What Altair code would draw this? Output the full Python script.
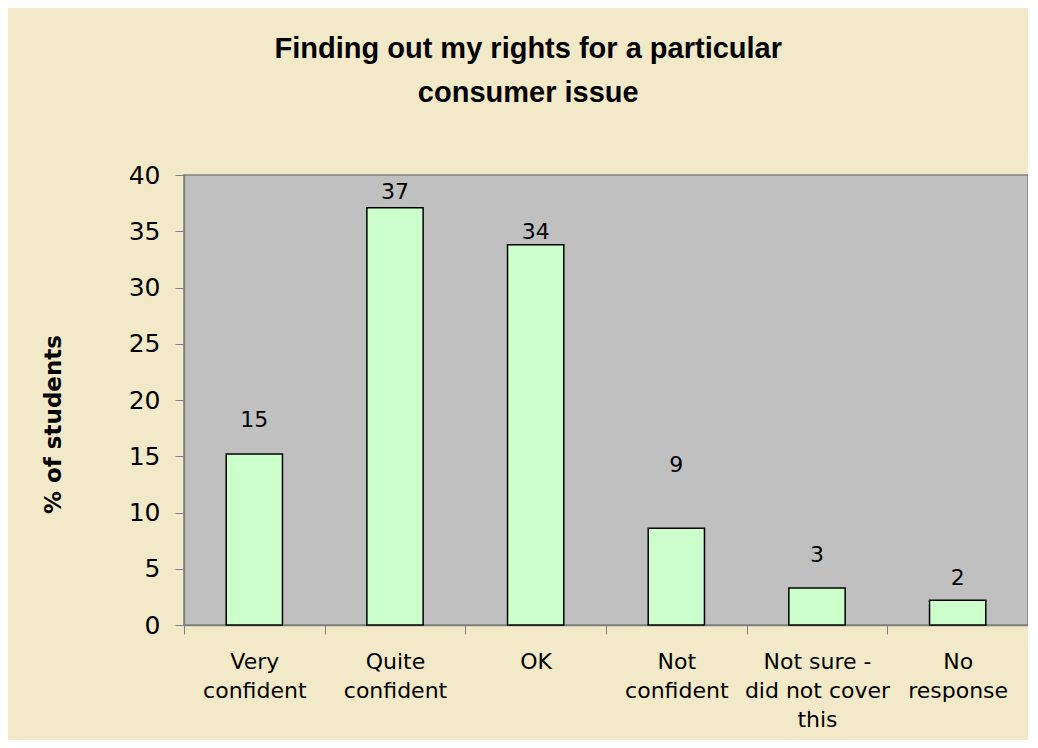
import altair as alt
import pandas as pd

categories = ["Very\nconfident", "Quite\nconfident", "OK", "Not\nconfident",
              "Not sure -\ndid not cover\nthis", "No\nresponse"]
values = [15.2, 37.1, 33.8, 8.6, 3.3, 2.2]
labels = ["15", "37", "34", "9", "3", "2"]
label_y = [18.2, 38.5, 34.9, 14.2, 6.2, 4.2]
y_ticks = [0, 5, 10, 15, 20, 25, 30, 35, 40]

df = pd.DataFrame({"cat": categories, "val": values, "lab": labels, "ly": label_y})

FONT = "DejaVu Sans"

x = alt.X("cat:N", sort=categories, title=None,
          scale=alt.Scale(paddingInner=0, paddingOuter=0),
          axis=alt.Axis(labelExpr="isValid(datum.value) ? split(datum.value, '\\n') : ''",
                        labelAngle=0,
                        labelFont=FONT, labelFontSize=22, labelColor="black",
                        labelLineHeight=29, labelPadding=17, labelBaseline="top",
                        tickBand="extent", tickColor="#808080", tickSize=9,
                        domainColor="#808080", domainWidth=1.5))

bars = alt.Chart(df).mark_bar(
    width=alt.RelativeBandSize(0.4), fill="#CCFFCC", stroke="black", strokeWidth=1.5
).encode(
    x=x,
    y=alt.Y("val:Q", title="% of students",
            scale=alt.Scale(domain=[0, 40], nice=False),
            axis=alt.Axis(values=y_ticks, grid=False, labelFont=FONT, labelFontSize=25,
                          labelColor="black", labelPadding=15, tickColor="#808080",
                          tickSize=9, domainColor="#808080", domainWidth=1.5,
                          titleFont=FONT, titleFontSize=23, titleFontWeight="bold",
                          titleColor="black", titleX=-131, titleY=249,
                          titleBaseline="middle")),
)

text = alt.Chart(df).mark_text(font=FONT, fontSize=22, color="black", baseline="middle").encode(
    x=alt.X("cat:N", sort=categories),
    y=alt.Y("ly:Q"),
    text="lab:N",
)

chart = alt.layer(bars, text).properties(
    width=844, height=450,
    autosize=alt.AutoSizeParams(type="none"),
    padding={"left": 176, "top": 167, "right": 0, "bottom": 115},
    background="#F2E9C8",
    title=alt.TitleParams(
        text=["Finding out my rights for a particular", "consumer issue"],
        font="Liberation Sans", fontSize=29, fontWeight="bold", color="black",
        lineHeight=44, anchor="middle", frame="bounds", offset=55, dx=-7),
).configure_view(fill="#C0C0C0", stroke="#808080", strokeWidth=1.5)

chart.save("out.html", embed_options={"renderer": "svg", "actions": False})
